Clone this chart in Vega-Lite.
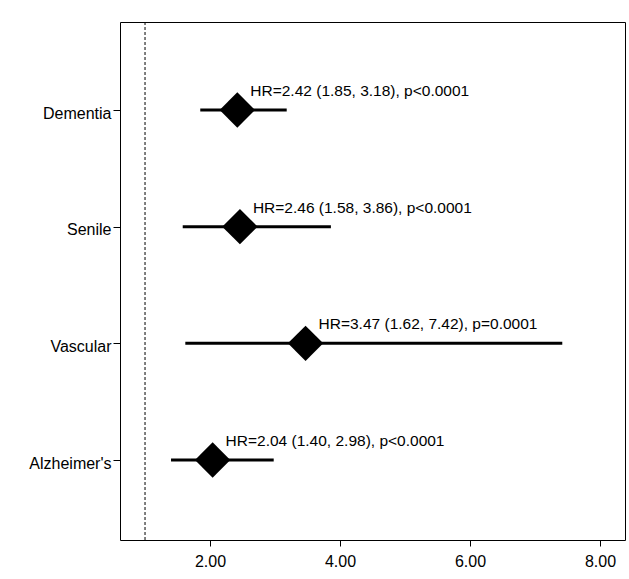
{
  "$schema": "https://vega.github.io/schema/vega-lite/v6.json",
  "autosize": {"type": "none"},
  "padding": {"left": 120, "top": 22, "right": 4, "bottom": 39},
  "width": 505,
  "height": 518,
  "background": "white",
  "config": {
    "view": {"stroke": "black", "strokeWidth": 1},
    "font": "Liberation Sans"
  },
  "datasets": {
    "hr": [
      {"group": "Dementia", "hr": 2.42, "lo": 1.85, "hi": 3.18, "label": "HR=2.42 (1.85, 3.18), p<0.0001"},
      {"group": "Senile", "hr": 2.46, "lo": 1.58, "hi": 3.86, "label": "HR=2.46 (1.58, 3.86), p<0.0001"},
      {"group": "Vascular", "hr": 3.47, "lo": 1.62, "hi": 7.42, "label": "HR=3.47 (1.62, 7.42), p=0.0001"},
      {"group": "Alzheimer's", "hr": 2.04, "lo": 1.40, "hi": 2.98, "label": "HR=2.04 (1.40, 2.98), p<0.0001"}
    ],
    "ref": [{"x": 1}]
  },
  "layer": [
    {
      "data": {"name": "ref"},
      "mark": {"type": "rule", "strokeDash": [3, 2], "strokeWidth": 1, "color": "black"},
      "encoding": {
        "x": {"field": "x", "type": "quantitative", "scale": {"domain": [0.615, 8.385], "nice": false, "zero": false}}
      }
    },
    {
      "data": {"name": "hr"},
      "mark": {"type": "rule", "strokeWidth": 3, "color": "black"},
      "encoding": {
        "x": {"field": "lo", "type": "quantitative"},
        "x2": {"field": "hi"},
        "y": {"field": "group", "type": "nominal"}
      }
    },
    {
      "data": {"name": "hr"},
      "mark": {"type": "point", "shape": "diamond", "filled": true, "color": "black", "opacity": 1, "size": 1250},
      "encoding": {
        "x": {"field": "hr", "type": "quantitative"},
        "y": {"field": "group", "type": "nominal"}
      }
    },
    {
      "data": {"name": "hr"},
      "mark": {"type": "text", "align": "left", "baseline": "alphabetic", "dx": 13, "dy": -14, "fontSize": 15.5, "color": "black", "font": "Liberation Sans"},
      "encoding": {
        "x": {"field": "hr", "type": "quantitative"},
        "y": {"field": "group", "type": "nominal"},
        "text": {"field": "label"}
      }
    }
  ],
  "resolve": {"scale": {"x": "shared", "y": "shared"}},
  "encoding": {
    "x": {
      "type": "quantitative",
      "scale": {"domain": [0.615, 8.385], "nice": false, "zero": false},
      "axis": {"values": [2, 4, 6, 8], "format": ".2f", "title": null, "grid": false, "domain": false, "ticks": true, "tickSize": 6, "tickColor": "black", "labelFontSize": 16, "labelColor": "black", "labelPadding": 7, "labelFont": "Liberation Sans"}
    },
    "y": {
      "type": "nominal",
      "sort": ["Dementia", "Senile", "Vascular", "Alzheimer's"],
      "scale": {"type": "point", "range": [88, 438], "padding": 0},
      "axis": {"title": null, "grid": false, "domain": false, "tickSize": 7, "tickColor": "black", "labelFontSize": 16, "labelColor": "black", "labelPadding": 2, "labelOffset": 3, "labelFont": "Liberation Sans"}
    }
  }
}
